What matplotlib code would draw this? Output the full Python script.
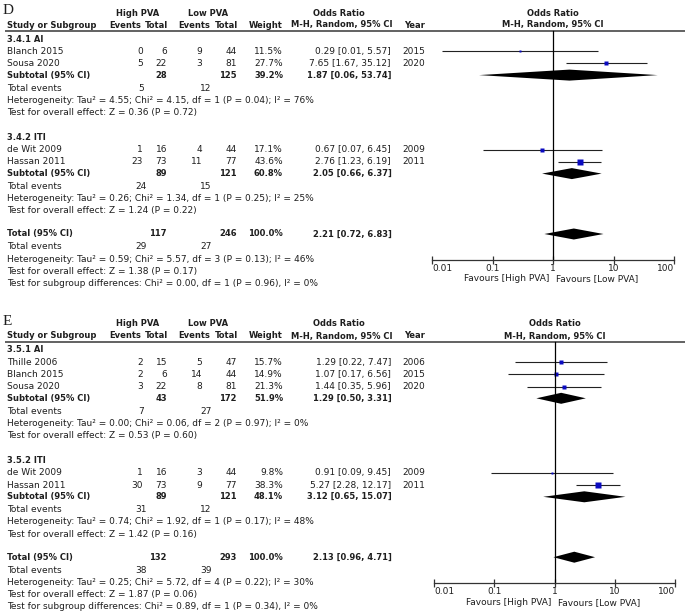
import matplotlib
matplotlib.use("Agg")
import matplotlib.pyplot as plt
from matplotlib.ticker import NullLocator

W, H = 685, 613
FS = 6.45      # regular text
FSB = 6.05     # bold text
TC = "#1e1e1e"
BLUE = "#0a0ac0"
P = 12.2

# ---------------- Panel D data ----------------
d_groups = ["3.4.1 AI", "3.4.2 ITI"]
d_study = ["Blanch 2015", "Sousa 2020", "de Wit 2009", "Hassan 2011"]
d_study_group = [0, 0, 1, 1]
d_hi_events = [0, 5, 1, 23]
d_hi_total = [6, 22, 16, 73]
d_lo_events = [9, 3, 4, 11]
d_lo_total = [44, 81, 44, 77]
d_weight = [11.5, 27.7, 17.1, 43.6]
d_or = [0.29, 7.65, 0.67, 2.76]
d_ci_low = [0.0149, 1.67, 0.07, 1.23]
d_ci_high = [5.57, 35.12, 6.45, 6.19]
d_year = [2015, 2020, 2009, 2011]
d_sub_hi_total = [28, 89]
d_sub_lo_total = [125, 121]
d_sub_hi_events = [5, 24]
d_sub_lo_events = [12, 15]
d_sub_weight = [39.2, 60.8]
d_sub_or = [1.87, 2.05]
d_sub_ci_low = [0.06, 0.66]
d_sub_ci_high = [53.74, 6.37]
d_sub_het = ["Tau² = 4.55; Chi² = 4.15, df = 1 (P = 0.04); I² = 76%",
             "Tau² = 0.26; Chi² = 1.34, df = 1 (P = 0.25); I² = 25%"]
d_sub_z = ["Z = 0.36 (P = 0.72)", "Z = 1.24 (P = 0.22)"]
d_total = [117, 246]
d_total_events = [29, 27]
d_total_or = [2.21, 0.72, 6.83]
d_total_het = "Tau² = 0.59; Chi² = 5.57, df = 3 (P = 0.13); I² = 46%"
d_total_z = "Z = 1.38 (P = 0.17)"
d_subgroup_test = "Chi² = 0.00, df = 1 (P = 0.96), I² = 0%"

# ---------------- Panel E data ----------------
e_groups = ["3.5.1 AI", "3.5.2 ITI"]
e_study = ["Thille 2006", "Blanch 2015", "Sousa 2020", "de Wit 2009", "Hassan 2011"]
e_study_group = [0, 0, 0, 1, 1]
e_hi_events = [2, 2, 3, 1, 30]
e_hi_total = [15, 6, 22, 16, 73]
e_lo_events = [5, 14, 8, 3, 9]
e_lo_total = [47, 44, 81, 44, 77]
e_weight = [15.7, 14.9, 21.3, 9.8, 38.3]
e_or = [1.29, 1.07, 1.44, 0.91, 5.27]
e_ci_low = [0.22, 0.17, 0.35, 0.09, 2.28]
e_ci_high = [7.47, 6.56, 5.96, 9.45, 12.17]
e_year = [2006, 2015, 2020, 2009, 2011]
e_sub_hi_total = [43, 89]
e_sub_lo_total = [172, 121]
e_sub_hi_events = [7, 31]
e_sub_lo_events = [27, 12]
e_sub_weight = [51.9, 48.1]
e_sub_or = [1.29, 3.12]
e_sub_ci_low = [0.50, 0.65]
e_sub_ci_high = [3.31, 15.07]
e_sub_het = ["Tau² = 0.00; Chi² = 0.06, df = 2 (P = 0.97); I² = 0%",
             "Tau² = 0.74; Chi² = 1.92, df = 1 (P = 0.17); I² = 48%"]
e_sub_z = ["Z = 0.53 (P = 0.60)", "Z = 1.42 (P = 0.16)"]
e_total = [132, 293]
e_total_events = [38, 39]
e_total_or = [2.13, 0.96, 4.71]
e_total_het = "Tau² = 0.25; Chi² = 5.72, df = 4 (P = 0.22); I² = 30%"
e_total_z = "Z = 1.87 (P = 0.06)"
e_subgroup_test = "Chi² = 0.89, df = 1 (P = 0.34), I² = 0%"

tick_values = [0.01, 0.1, 1, 10, 100]
tick_labels = ["0.01", "0.1", "1", "10", "100"]

fig = plt.figure(figsize=(W / 100, H / 100), dpi=100)
ax = fig.add_axes([0, 0, 1, 1])
ax.set_xlim(0, W)
ax.set_ylim(H, 0)
ax.axis("off")


def txt(x, y, s, ha="left", bold=False, size=None, va="center", **kw):
    if size is None:
        size = FSB if bold else FS
    ax.text(x, y, s, ha=ha, va=va, fontsize=size,
            fontweight="bold" if bold else "normal", color=TC, **kw)


def ci_text(o, lo, hi):
    return f"{o:.2f} [{lo:.2f}, {hi:.2f}]"


def diamond(fax, o, lo, hi, y, h=5.5):
    fax.fill([lo, o, hi, o], [y, y - h, y, y + h], color="black", lw=0)


def draw_panel(top, letter, x0, x1, d):
    mid = (x0 + x1) / 2
    txt(3, top + 15, letter, size=11, family="Liberation Serif", va="baseline")
    h1 = top + 14
    txt(138, h1, "High PVA", ha="center", bold=True)
    txt(208, h1, "Low PVA", ha="center", bold=True)
    txt(339, h1, "Odds Ratio", ha="center", bold=True)
    txt(mid, h1, "Odds Ratio", ha="center", bold=True)
    h2 = top + 26
    txt(7, h2, "Study or Subgroup", bold=True)
    txt(141, h2, "Events", ha="right", bold=True)
    txt(168, h2, "Total", ha="right", bold=True)
    txt(210, h2, "Events", ha="right", bold=True)
    txt(238, h2, "Total", ha="right", bold=True)
    txt(283, h2, "Weight", ha="right", bold=True)
    txt(393, h2, "M-H, Random, 95% CI", ha="right", bold=True)
    txt(404, h2, "Year", bold=True)
    txt(mid, h2, "M-H, Random, 95% CI", ha="center", bold=True)
    ax.plot([5, W], [top + 32, top + 32], color="#555555", lw=1.3,
            solid_capstyle="butt")

    fax = fig.add_axes([x0 / W, 0, (x1 - x0) / W, 1])
    fax.patch.set_alpha(0)
    fax.set_xscale("log")
    fax.set_xlim(0.01, 100)
    fax.set_ylim(H, 0)
    for s in ("top", "left", "right"):
        fax.spines[s].set_visible(False)
    fax.set_yticks([])

    cur = top + 40
    for g, gname in enumerate(d["groups"]):
        txt(7, cur, gname, bold=True)
        y = cur
        for i in range(len(d["study"])):
            if d["sgroup"][i] != g:
                continue
            y += P
            txt(7, y, d["study"][i])
            txt(143, y, str(d["hie"][i]), ha="right")
            txt(167, y, str(d["hit"][i]), ha="right")
            txt(202, y, str(d["loe"][i]), ha="right")
            txt(237, y, str(d["lot"][i]), ha="right")
            txt(283, y, f"{d['w'][i]:.1f}%", ha="right")
            txt(391, y, ci_text(d["or"][i], d["cil"][i], d["cih"][i]), ha="right")
            txt(402, y, str(d["year"][i]))
            fax.plot([d["cil"][i], d["cih"][i]], [y, y], color="#222222", lw=0.8,
                     solid_capstyle="butt")
            side = 1.2 + 0.13 * d["w"][i]
            fax.plot([d["or"][i]], [y], marker="s", ms=side * 0.72, color=BLUE,
                     mec="none", ls="none")
        ys = y + 11.7
        txt(7, ys, "Subtotal (95% CI)", bold=True)
        txt(167, ys, str(d["sub_hit"][g]), ha="right", bold=True)
        txt(237, ys, str(d["sub_lot"][g]), ha="right", bold=True)
        txt(283, ys, f"{d['sub_w'][g]:.1f}%", ha="right", bold=True)
        txt(392, ys, ci_text(d["sub_or"][g], d["sub_cil"][g], d["sub_cih"][g]),
            ha="right", bold=True)
        diamond(fax, d["sub_or"][g], d["sub_cil"][g], d["sub_cih"][g], ys)
        yt = ys + 13
        txt(7, yt, "Total events")
        txt(141, yt, str(d["sub_hie"][g]), ha="center")
        txt(206, yt, str(d["sub_loe"][g]), ha="center")
        yh = yt + P
        txt(7, yh, "Heterogeneity: " + d["sub_het"][g])
        yz = yh + P
        txt(7, yz, "Test for overall effect: " + d["sub_z"][g])
        cur = yz + 25

    ytot = cur - 2
    o, lo, hi = d["tot_or"]
    txt(7, ytot, "Total (95% CI)", bold=True)
    txt(167, ytot, str(d["tot"][0]), ha="right", bold=True)
    txt(237, ytot, str(d["tot"][1]), ha="right", bold=True)
    txt(283, ytot, "100.0%", ha="right", bold=True)
    txt(392, ytot, ci_text(o, lo, hi), ha="right", bold=True)
    diamond(fax, o, lo, hi, ytot)
    yt = ytot + 13
    txt(7, yt, "Total events")
    txt(141, yt, str(d["tot_ev"][0]), ha="center")
    txt(206, yt, str(d["tot_ev"][1]), ha="center")
    txt(7, yt + P, "Heterogeneity: " + d["tot_het"])
    txt(7, yt + 2 * P, "Test for overall effect: " + d["tot_z"])
    txt(7, yt + 3 * P, "Test for subgroup differences: " + d["sg_test"])

    axis_y = ytot + 26
    fax.plot([1, 1], [top + 32, axis_y], color="black", lw=0.9)
    fax.spines["bottom"].set_position(("data", axis_y))
    fax.spines["bottom"].set_linewidth(0.9)
    fax.spines["bottom"].set_color("#333333")
    fax.set_xticks(tick_values)
    labs = fax.set_xticklabels(tick_labels)
    fax.xaxis.set_minor_locator(NullLocator())
    fax.tick_params(axis="x", which="major", direction="inout", length=6,
                    width=0.9, labelsize=FS, pad=0, colors="#333333",
                    labelcolor=TC)
    labs[0].set_ha("left")
    labs[-1].set_ha("right")
    txt(mid - 3.5, axis_y + 19, "Favours [High PVA]", ha="right")
    txt(mid + 3.5, axis_y + 19, "Favours [Low PVA]", ha="left")


draw_panel(-1, "D", 432, 674, dict(
    groups=d_groups, study=d_study, sgroup=d_study_group, hie=d_hi_events,
    hit=d_hi_total, loe=d_lo_events, lot=d_lo_total, w=d_weight, year=d_year,
    cil=d_ci_low, cih=d_ci_high, sub_hit=d_sub_hi_total, sub_lot=d_sub_lo_total,
    sub_hie=d_sub_hi_events, sub_loe=d_sub_lo_events, sub_w=d_sub_weight,
    sub_or=d_sub_or, sub_cil=d_sub_ci_low, sub_cih=d_sub_ci_high,
    sub_het=d_sub_het, sub_z=d_sub_z, tot=d_total, tot_ev=d_total_events,
    tot_or=d_total_or, tot_het=d_total_het, tot_z=d_total_z,
    sg_test=d_subgroup_test, **{"or": d_or}))

draw_panel(310, "E", 434, 675, dict(
    groups=e_groups, study=e_study, sgroup=e_study_group, hie=e_hi_events,
    hit=e_hi_total, loe=e_lo_events, lot=e_lo_total, w=e_weight, year=e_year,
    cil=e_ci_low, cih=e_ci_high, sub_hit=e_sub_hi_total, sub_lot=e_sub_lo_total,
    sub_hie=e_sub_hi_events, sub_loe=e_sub_lo_events, sub_w=e_sub_weight,
    sub_or=e_sub_or, sub_cil=e_sub_ci_low, sub_cih=e_sub_ci_high,
    sub_het=e_sub_het, sub_z=e_sub_z, tot=e_total, tot_ev=e_total_events,
    tot_or=e_total_or, tot_het=e_total_het, tot_z=e_total_z,
    sg_test=e_subgroup_test, **{"or": e_or}))

fig.savefig("out.png", dpi=100, facecolor="white")
